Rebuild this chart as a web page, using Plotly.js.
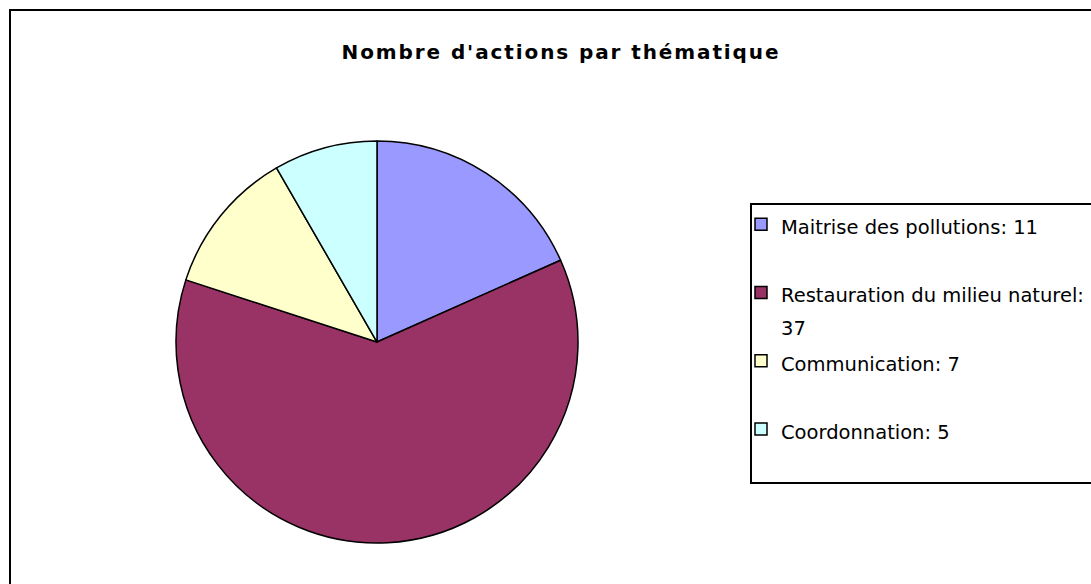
<!DOCTYPE html>
<html>
<head>
<meta charset="utf-8">
<script src="https://cdn.plot.ly/plotly-3.0.1.min.js"></script>
<style>
  html, body { margin: 0; padding: 0; background: #ffffff; }
  #chart { width: 1091px; height: 584px; }
  .gtitle { letter-spacing: 1.9px; }
</style>
</head>
<body>
<div id="chart"></div>
<script>
// ---- data ----
const chartTitle = "Nombre d'actions par thématique";
const categories = ["Maitrise des pollutions", "Restauration du milieu naturel", "Communication", "Coordonnation"];
const values = [11, 37, 7, 5];
const colors = ["#9999FF", "#993366", "#FFFFCC", "#CCFFFF"];

// ---- legend labels (category: value, long ones wrapped) ----
const legendLabels = categories.map(function (c, i) {
  const long = c.length > 25;
  const body = '<span style="font-size:19.5px">' + c + ':' + (long ? '<br>' : ' ') + values[i] + '</span>';
  return long ? body : body + '<br> ';
});

const W = 1091, H = 584;
const px = function (x) { return x / W; };
const py = function (y) { return 1 - y / H; };

const trace = {
  type: 'pie',
  labels: legendLabels,
  values: values,
  sort: false,
  direction: 'clockwise',
  rotation: 0,
  textinfo: 'none',
  hoverinfo: 'skip',
  marker: { colors: colors, line: { color: '#000000', width: 1.5 } },
  domain: { x: [px(176), px(578)], y: [py(543), py(141)] }
};

const layout = {
  width: W,
  height: H,
  margin: { l: 0, r: 0, t: 0, b: 0, autoexpand: false },
  paper_bgcolor: '#ffffff',
  plot_bgcolor: '#ffffff',
  title: {
    text: chartTitle,
    x: 561 / W,
    xanchor: 'center',
    xref: 'container',
    yref: 'container',
    y: 1 - 58.5 / H,
    yanchor: 'bottom',
    font: { family: 'DejaVu Sans', size: 20, color: '#000000', weight: 'bold' }
  },
  showlegend: true,
  legend: {
    x: px(741),
    xanchor: 'left',
    y: py(201.5),
    yanchor: 'top',
    bgcolor: 'rgba(0,0,0,0)',
    borderwidth: 0,
    valign: 'top',
    traceorder: 'normal',
    font: { family: 'DejaVu Sans', size: 25.1, color: '#000000' }
  },
  shapes: [
    { type: 'line', xref: 'paper', yref: 'paper', x0: px(10), x1: px(10), y0: py(9), y1: py(600), line: { color: '#000000', width: 2 } },
    { type: 'line', xref: 'paper', yref: 'paper', x0: px(9), x1: px(1100), y0: py(10), y1: py(10), line: { color: '#000000', width: 2 } },
    { type: 'rect', xref: 'paper', yref: 'paper', x0: px(751), x1: px(1100), y0: py(204), y1: py(483), line: { color: '#000000', width: 2 }, fillcolor: 'rgba(0,0,0,0)' }
  ]
};

Plotly.newPlot('chart', [trace], layout, { staticPlot: true, displayModeBar: false });
</script>
</body>
</html>
